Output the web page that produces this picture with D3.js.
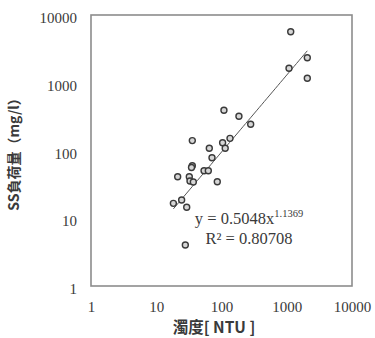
<!DOCTYPE html>
<html><head><meta charset="utf-8">
<script src="https://cdn.jsdelivr.net/npm/d3@7"></script>
<style>body{margin:0;background:#fff}svg{display:block}</style>
</head><body>
<svg id="c" width="375" height="338"></svg>
<script>
const turbidity = [1150, 2065, 1083, 2065, 109, 185, 280, 135, 35.7, 104, 65, 114, 71.5, 35.7, 34.7, 54, 62.8, 21.3, 32.1, 86.2, 32.9, 37, 18.3, 24.5, 29.3, 27.9];
const ssLoad    = [5670, 2344, 1634, 1164, 392, 320, 244, 151, 140, 130, 108, 108, 78, 59.7, 56, 50.3, 50.3, 41, 41, 34.6, 35.5, 34.3, 16.6, 18.6, 14.5, 4.03];
const xTicks = [1, 10, 100, 1000, 10000];
const yTicks = [1, 10, 100, 1000, 10000];
const fitA = 0.5048, fitB = 1.1369;
const eqText = "y = 0.5048x", eqExp = "1.1369", r2Text = "R² = 0.80708";
const xTitle = "濁度[ NTU ]", yTitle = "SS負荷量（mg/l）";

const svg = d3.select("#c");
const L = 91, R = 352, T = 15, B = 286;
const x = d3.scaleLog().domain([1, 10000]).range([L, R]);
const y = d3.scaleLog().domain([1, 10000]).range([B, T]);
const font = "'Liberation Serif','Times New Roman',serif";
const tc = "#3a3a3a";

svg.append("rect").attr("x", L).attr("y", T).attr("width", R - L).attr("height", B - T)
  .attr("fill", "none").attr("stroke", "#8c8c8c").attr("stroke-width", 1.6);

const xa = svg.append("g").attr("transform", `translate(0,${B})`)
  .call(d3.axisBottom(x).tickValues(xTicks).tickFormat(d3.format("d")).tickSize(0).tickPadding(15));
const ya = svg.append("g").attr("transform", `translate(${L},0)`)
  .call(d3.axisLeft(y).tickValues(yTicks).tickFormat(d3.format("d")).tickSize(0).tickPadding(14));
[xa, ya].forEach(a => {
  a.select(".domain").remove();
  a.selectAll("text").attr("font-family", font).attr("font-size", 15).attr("fill", tc);
});
ya.selectAll("text").attr("dy", "0.5em");

// trend line
const xs = d3.extent(turbidity);
const lineData = d3.range(0, 51).map(i => {
  const lx = Math.log10(xs[0]) + (Math.log10(xs[1]) - Math.log10(xs[0])) * i / 50;
  const xv = Math.pow(10, lx);
  return [xv, fitA * Math.pow(xv, fitB)];
});
svg.append("path").datum(lineData)
  .attr("d", d3.line().x(d => x(d[0])).y(d => y(d[1])))
  .attr("fill", "none").attr("stroke", "#555").attr("stroke-width", 1);

svg.append("g").selectAll("circle").data(turbidity.map((t, i) => [t, ssLoad[i]]))
  .join("circle").attr("cx", d => x(d[0])).attr("cy", d => y(d[1])).attr("r", 3)
  .attr("fill", "#d6d6d6").attr("stroke", "#3a3a3a").attr("stroke-width", 1.4);

const eq = svg.append("text").attr("x", 249).attr("y", 224).attr("text-anchor", "middle")
  .attr("font-family", font).attr("font-size", 16.5).attr("fill", tc);
eq.append("tspan").text(eqText);
eq.append("tspan").attr("dy", -7).attr("font-size", 10.5).text(eqExp);
svg.append("text").attr("x", 249).attr("y", 244).attr("text-anchor", "middle")
  .attr("font-family", font).attr("font-size", 16.5).attr("fill", tc).text(r2Text);

svg.append("text").attr("x", 214).attr("y", 333).attr("text-anchor", "middle")
  .attr("font-family", "'Noto Sans CJK JP',serif").attr("font-weight", "bold")
  .attr("font-size", 15.5).attr("fill", tc).text(xTitle);
svg.append("text").attr("transform", "translate(19,151) rotate(-90)").attr("text-anchor", "middle")
  .attr("font-family", "'Noto Sans CJK JP',serif").attr("font-weight", "bold")
  .attr("font-size", 14).attr("fill", tc).text(yTitle);
</script>
</body></html>
